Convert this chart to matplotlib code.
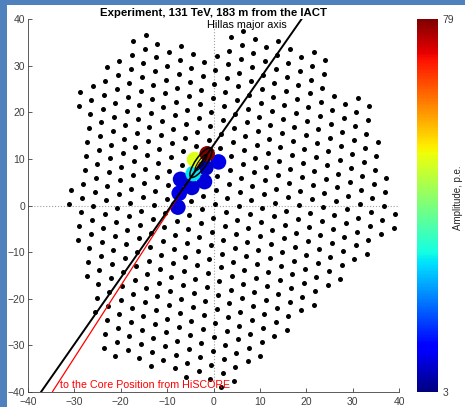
import numpy as np
import matplotlib
matplotlib.use('Agg')
import matplotlib.pyplot as plt
from matplotlib.patches import Ellipse, Rectangle

plt.rcParams['font.family'] = ['Liberation Sans', 'DejaVu Sans']

# camera geometry: PMT pitch (cm), lattice rotation (deg), lattice origin
pitch = 3.0
rot_deg = 24.5
x0, y0 = 0.22, 0.39

# PMT columns of the hexagonal camera: column index, first and last row index
col_i = [-12, -12, -11, -10, -9, -8, -7, -6, -5, -4, -3, -2, -1, 0, 1, 2,
         3, 4, 5, 6, 7, 8, 9, 10, 11, 12, 13, 14, 15]
col_j0 = [5, 12, 2, -1, -4, -7, -8, -8, -9, -10, -10, -11, -12, -12, -13, -14,
          -14, -13, -13, -12, -12, -11, -11, -10, -10, -9, -9, -8, -8]
col_j1 = [6, 13, 13, 14, 14, 15, 15, 14, 13, 13, 12, 11, 11, 12, 12, 11,
          10, 10, 9, 8, 8, 7, 4, 3, 3, 2, -1, -4, -7]

# fired PMTs (lattice index) and their amplitudes, p.e.
hit_i = [0, -1, -3, -2, -1, -3, -3, -2, -2, -1]
hit_j = [3, 3, 3, 2, 2, 2, 1, 3, 4, 4]
hit_amp = [10, 8, 9, 9, 9, 10, 9, 30, 50, 79]

# Hillas major axis and direction to the core position
axis_x = [-37.2, 19.0]
axis_y = [-40.0, 40.0]
core_x = [-34.7, -2.9]
core_y = [-39.9, 9.2]
hillas_center = (-2.7, 9.2)


def lattice_xy(i, j):
    t = np.deg2rad(rot_deg)
    u = np.deg2rad(rot_deg + 60)
    i = np.asarray(i, float)
    j = np.asarray(j, float)
    x = x0 + pitch * (i * np.cos(t) + j * np.cos(u))
    y = y0 + pitch * (i * np.sin(t) + j * np.sin(u))
    return x, y


pi, pj = [], []
for i, j0, j1 in zip(col_i, col_j0, col_j1):
    for j in range(j0, j1 + 1):
        pi.append(i)
        pj.append(j)
px, py = lattice_xy(pi, pj)
hx, hy = lattice_xy(hit_i, hit_j)

fig = plt.figure(figsize=(4.65, 4.07), dpi=100, facecolor='#4f81bd')
fig.patches.append(Rectangle((7 / 465, 0), 1, 1 - 5 / 407, transform=fig.transFigure,
                             facecolor='white', edgecolor='none', zorder=-1))

ax = fig.add_axes([28 / 465, 15 / 407, 371 / 465, 373 / 407])
ax.set_facecolor('white')

ax.axvline(0, color='#a0a0a0', lw=0.8, ls=':', zorder=1)
ax.axhline(0, color='#a0a0a0', lw=0.8, ls=':', zorder=1)

ax.scatter(px, py, s=13, color='black', linewidths=0, zorder=2)
sc = ax.scatter(hx, hy, s=125, c=hit_amp, cmap='jet', vmin=3, vmax=79,
                linewidths=0, zorder=3)

ang = np.degrees(np.arctan2(axis_y[1] - axis_y[0], axis_x[1] - axis_x[0]))
ax.add_patch(Ellipse(hillas_center, 7.6, 2.4, angle=ang, fill=False,
                     edgecolor='black', lw=1.1, zorder=5))
ax.add_patch(Ellipse(hillas_center, 4.2, 1.1, angle=ang, fill=False,
                     edgecolor='black', lw=0.8, zorder=5))

ax.plot(core_x, core_y, color='red', lw=0.9, zorder=4)
ax.plot(axis_x, axis_y, color='black', lw=1.4, zorder=4)

ax.text(-1.4, 38.8, 'Hillas major axis', fontsize=7.8, ha='left', va='center',
        color='black', zorder=6)
ax.text(-33.1, -38.4, 'to the Core Position from HiSCORE', fontsize=7.7,
        ha='left', va='center', color='red', zorder=6)

ax.set_xlim(-40, 40)
ax.set_ylim(-40, 40)
ax.set_xticks(np.arange(-40, 41, 10))
ax.set_yticks(np.arange(-40, 41, 10))
ax.tick_params(direction='in', length=3, width=0.6, labelsize=7.5,
               colors='#404040')
ax.tick_params(axis='x', pad=3.5)
ax.tick_params(axis='y', pad=2)
for side in ['top', 'right']:
    ax.spines[side].set_visible(False)
for side in ['left', 'bottom']:
    ax.spines[side].set_color('#404040')
    ax.spines[side].set_linewidth(0.6)

ax.set_title('Experiment, 131 TeV, 183 m from the IACT', fontsize=8.2,
             fontweight='bold', pad=2)

cax = fig.add_axes([417 / 465, 15 / 407, 21 / 465, 373 / 407])
cb = fig.colorbar(sc, cax=cax, ticks=[3, 79])
cb.outline.set_visible(False)
cax.tick_params(length=0, labelsize=7.5, colors='#404040', pad=3)
fig.text(453 / 465, 0.515, 'Amplitude, p.e.', rotation=90, ha='left',
         va='center', fontsize=7, color='#262626')

fig.savefig('out.png', dpi=100, facecolor=fig.get_facecolor())
